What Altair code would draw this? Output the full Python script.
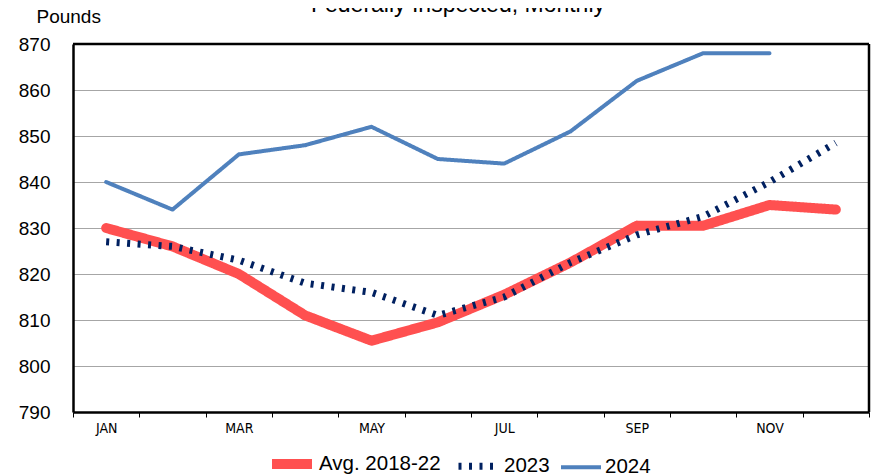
import altair as alt
import pandas as pd

months = ["JAN", "FEB", "MAR", "APR", "MAY", "JUN", "JUL", "AUG", "SEP", "OCT", "NOV", "DEC"]
avg_2018_22 = [830, 826, 820, 811, 805.5, 809.5, 815.5, 822.5, 830.5, 830.5, 835, 834]
y2023 = [827, 826, 823, 818, 816, 811, 815, 822.5, 828.5, 832.5, 840, 848.5]
y2024 = [840, 834, 846, 848, 852, 845, 844, 851, 862, 868, 868, None]
series_names = ["Avg. 2018-22", "2023", "2024"]
series_colors = ["#FF5050", "#002060", "#4F81BD"]
series_widths = [10, 4, 4]
series_dashes = [[1, 0], [3, 7.5], [1, 0]]
series_caps = ["round", "butt", "round"]
y_ticks = [790, 800, 810, 820, 830, 840, 850, 860, 870]
title_text = "Federally Inspected, Monthly"

rows = []
for name, vals in zip(series_names, [avg_2018_22, y2023, y2024]):
    for i, (m, v) in enumerate(zip(months, vals)):
        if v is not None:
            rows.append({"series": name, "month": m, "mnum": i + 1, "value": v})
df = pd.DataFrame(rows)

FONT = "Liberation Sans"
NARROW = "Liberation Sans Narrow, DejaVu Sans Condensed, sans-serif"

W = 796
H = 368

label_list = "[" + ",".join(
    "'" + (m if i % 2 == 0 else "") + "'" for i, m in enumerate(months)
) + ",'']"

x = alt.X(
    "mnum:Q",
    scale=alt.Scale(domain=[0.5, 12.5], nice=False, zero=False),
    axis=alt.Axis(
        values=[i + 0.5 for i in range(13)],
        title=None,
        grid=False,
        domain=True,
        domainColor="black",
        domainWidth=2.5,
        ticks=True,
        tickSize=5,
        tickColor="black",
        tickWidth=1,
        labelOffset=W / 24,
        labelFlush=False,
        labelOverlap=False,
        labelPadding=4,
        labelExpr=label_list + "[floor(datum.value)]",
        labelFont=NARROW,
        labelFontSize=14,
        labelColor="black",
    ),
)
y = alt.Y(
    "value:Q",
    scale=alt.Scale(domain=[790, 870], nice=False, zero=False),
    axis=alt.Axis(
        values=y_ticks,
        title="Pounds",
        titleAngle=0,
        titleAlign="left",
        titleBaseline="alphabetic",
        titleX=-37,
        titleY=-22,
        titleFont=FONT,
        titleFontSize=19,
        titleFontWeight="normal",
        titleColor="black",
        grid=True,
        gridColor="#A6A6A6",
        gridWidth=1,
        domain=True,
        domainColor="black",
        domainWidth=2.5,
        ticks=False,
        labelPadding=23,
        labelFont=FONT,
        labelFontSize=19,
        labelColor="black",
    ),
)

legend = alt.Legend(
    title=None,
    orient="none",
    direction="horizontal",
    legendX=194,
    legendY=395,
    symbolType="stroke",
    symbolSize=1600,
    labelFont=FONT,
    labelFontSize=20.5,
    labelColor="black",
    labelOffset=2,
    columnPadding=3,
    padding=0,
)

enc_color = alt.Color("series:N", scale=alt.Scale(domain=series_names, range=series_colors), legend=legend)
enc_width = alt.StrokeWidth("series:N", scale=alt.Scale(domain=series_names, range=series_widths), legend=legend)
enc_dash = alt.StrokeDash("series:N", scale=alt.Scale(domain=series_names, range=series_dashes), legend=legend)

layers = []
for s, cap in zip(series_names, series_caps):
    layers.append(
        alt.Chart(df)
        .transform_filter(alt.datum.series == s)
        .mark_line(strokeCap=cap, strokeJoin="round")
        .encode(x=x, y=y, color=enc_color, strokeWidth=enc_width, strokeDash=enc_dash)
    )

title_df = pd.DataFrame({"t": [title_text]})
title_mark = alt.Chart(title_df).mark_text(
    font=FONT, fontSize=23, color="black", align="center", baseline="alphabetic"
).encode(x=alt.value(385), y=alt.value(-32), text="t:N")

border_top = alt.Chart(title_df).mark_rule(color="black", strokeWidth=2.5).encode(
    x=alt.value(0), x2=alt.value(W), y=alt.value(0)
)
border_right = alt.Chart(title_df).mark_rule(color="black", strokeWidth=2.5).encode(
    x=alt.value(W), y=alt.value(0), y2=alt.value(H)
)

chart = alt.layer(*layers, border_top, border_right, title_mark).properties(
    width=W,
    height=H,
    background="white",
    autosize=alt.AutoSizeParams(type="none"),
    padding={"left": 65, "top": 36, "right": 2, "bottom": 63},
).configure_view(stroke=None)

chart.save("out.html", embed_options={"renderer": "svg", "actions": False})
